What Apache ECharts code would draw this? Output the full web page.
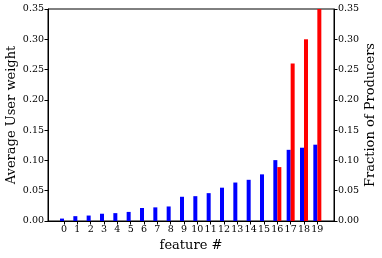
<!DOCTYPE html>
<html><head><meta charset="utf-8">
<script src="https://cdn.jsdelivr.net/npm/echarts@6/dist/echarts.min.js"></script>
<style>html,body{margin:0;padding:0;background:#fff}#c{width:382px;height:258px}</style>
</head><body><div id="c"></div>
<script>
const features = [0,1,2,3,4,5,6,7,8,9,10,11,12,13,14,15,16,17,18,19];
const userWeight = [0.004,0.008,0.009,0.012,0.013,0.015,0.0215,0.0225,0.024,0.040,0.041,0.046,0.055,0.0635,0.068,0.077,0.1005,0.1175,0.121,0.126];
const producerFraction = [0,0,0,0,0,0,0,0,0,0,0,0,0,0,0,0,0.089,0.26,0.30,0.35];
const yTicks = [0,0.05,0.10,0.15,0.20,0.25,0.30,0.35];

const font = 'DejaVu Serif';
const chart = echarts.init(document.getElementById('c'), null, {renderer:'canvas'});
const yAxisBase = {
  type:'value', min:0, max:0.35, interval:0.05,
  axisLine:{show:true, onZero:false, lineStyle:{color:'#000', width:1}},
  axisTick:{show:true, length:3.5, lineStyle:{color:'#000'}},
  splitLine:{show:false},
  axisLabel:{color:'#000', fontFamily:font, fontSize:9.5, margin:4, formatter:v=>v.toFixed(2)},
  nameLocation:'middle', nameMoveOverlap:false,
  nameTextStyle:{color:'#000', fontFamily:font, fontSize:13}
};
chart.setOption({
  animation:false,
  grid:{left:48, right:48, top:9, bottom:37, show:true, borderColor:'#000', borderWidth:1, outerBoundsMode:'none', containLabel:false},
  xAxis:{
    type:'value', min:-1.2, max:20.25,
    axisLine:{show:true, onZero:false, lineStyle:{color:'#000'}},
    axisTick:{show:true, length:3.5, customValues:features, lineStyle:{color:'#000'}},
    axisLabel:{color:'#000', fontFamily:font, fontSize:9.5, margin:4, customValues:features, formatter:v=>String(v)},
    splitLine:{show:false},
    name:'feature #', nameLocation:'middle', nameGap:18, nameMoveOverlap:false,
    nameTextStyle:{color:'#000', fontFamily:font, fontSize:13}
  },
  yAxis:[
    Object.assign({}, yAxisBase, {position:'left', name:'Average User weight', nameGap:30}),
    Object.assign({}, yAxisBase, {position:'right', name:'Fraction of Producers', nameGap:30})
  ],
  series:[
    {type:'bar', yAxisIndex:0, barWidth:4, barGap:'-100%', itemStyle:{color:'#0000ff'},
     data:features.map((f,i)=>[f-0.15, userWeight[i]])},
    {type:'bar', yAxisIndex:1, barWidth:4, barGap:'-100%', itemStyle:{color:'#ff0000'},
     data:features.map((f,i)=>[f+0.15, producerFraction[i]])}
  ]
});
</script></body></html>
